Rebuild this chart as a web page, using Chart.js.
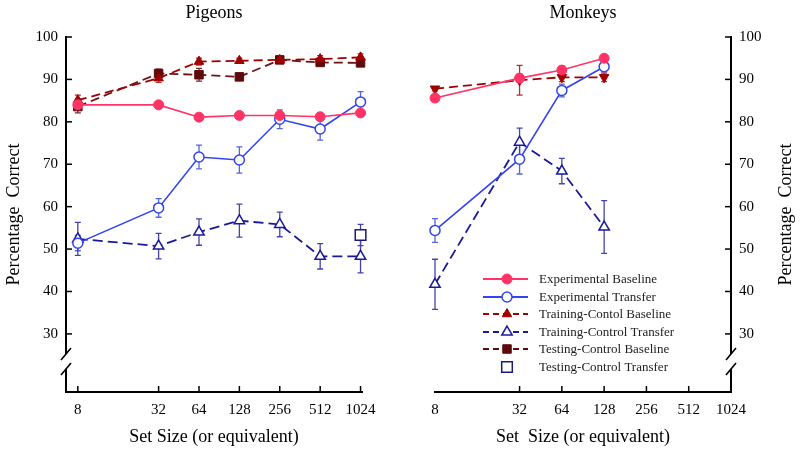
<!DOCTYPE html>
<html><head><meta charset="utf-8">
<script src="https://cdn.jsdelivr.net/npm/chart.js@4.4.1/dist/chart.umd.min.js"></script>
<style>
html,body{margin:0;padding:0;background:#fff;}
#wrap{position:relative;width:800px;height:459px;overflow:hidden;}
.c{position:absolute;top:0;width:400px;height:459px;}
</style></head><body>
<div id="wrap">
<div class="c" style="left:0"><canvas id="pig" width="400" height="459"></canvas></div>
<div class="c" style="left:400px"><canvas id="mon" width="400" height="459"></canvas></div>
</div>
<script>
// ---------- data ----------
const setSizeTicks = [8, 32, 64, 128, 256, 512, 1024];
const yTickValues = [30, 40, 50, 60, 70, 80, 90, 100];

const pigeonSizes = [8, 32, 64, 128, 256, 512, 1024];
const pigExpBase      = [84.0, 84.0, 81.1, 81.5, 81.5, 81.2, 82.1];
const pigExpBaseErr   = [0.5, 0.5, 0.5, 0.6, 0.8, 0.9, 0.6];
const pigExpTrans     = [51.4, 59.7, 71.7, 71.0, 80.6, 78.3, 84.7];
const pigExpTransErr  = [1.8, 2.2, 2.8, 3.1, 2.2, 2.6, 2.4];
const pigTrainBase    = [85.1, 90.3, 94.2, 94.4, 94.6, 94.8, 95.2];
const pigTrainBaseErr = [1.2, 1.0, 0.8, 0.6, 0.8, 0.8, 0.8];
const pigTrainTrans   = [52.4, 50.7, 54.0, 56.7, 55.8, 48.3, 48.3];
const pigTrainTransErr= [3.9, 3.0, 3.1, 3.9, 2.9, 3.0, 3.9];
const pigTestBase     = [83.6, 91.4, 91.1, 90.6, 94.6, 94.0, 93.9];
const pigTestBaseErr  = [1.5, 1.0, 1.5, 0.8, 0.8, 0.8, 0.8];
const pigTestTrans    = [null, null, null, null, null, null, 53.3];
const pigTestTransErr = [0, 0, 0, 0, 0, 0, 2.5];

const monkeySizes = [8, 32, 64, 128];
const monExpBase      = [85.6, 90.3, 92.2, 95.0];
const monExpBaseErr   = [0.5, 1.0, 1.0, 0.7];
const monExpTrans     = [54.4, 71.2, 87.4, 93.0];
const monExpTransErr  = [2.8, 3.5, 1.5, 1.2];
const monTrainBase    = [87.8, 89.8, 90.5, 90.5];
const monTrainBaseErr = [0.5, 3.5, 1.0, 1.0];
const monTrainTrans   = [41.7, 75.2, 68.4, 55.2];
const monTrainTransErr= [5.9, 3.3, 3.0, 6.2];

const legendLabels = ['Experimental Baseline', 'Experimental Transfer', 'Training-Contol Baseline',
  'Training-Control Transfer', 'Testing-Control Baseline', 'Testing-Control Transfer'];

// ---------- styles ----------
const C = {
  expBase: '#FF3366', expBaseErr: '#FF6688',
  expTrans: '#3344EE', expTransErr: '#5566DD',
  trainBase: '#A00000', trainBaseErr: '#B03030',
  trainTrans: '#1A1A99', trainTransErr: '#4444AA',
  testBase: '#5C0A0A', testBaseLine: '#6B1515', testBaseErr: '#7A2A2A',
  testTrans: '#1A1A80', testTransErr: '#4444AA'
};
const FONT = "'Liberation Serif', 'Times New Roman', serif";
Chart.defaults.font.family = FONT;
Chart.defaults.color = '#000';

const pts = (xs, ys) => xs.map((x, i) => ({x: x, y: ys[i]}));

function makeSets(xs, d) {
  const sets = [];
  sets.push({label: legendLabels[0], data: pts(xs, d.expBase), err: d.expBaseErr, errColor: C.expBaseErr,
    borderColor: C.expBase, backgroundColor: C.expBase, borderWidth: 1.6, pointStyle: 'circle',
    pointRadius: 5, pointBorderWidth: 1, pointBackgroundColor: C.expBase, pointBorderColor: C.expBase, clip: false});
  sets.push({label: legendLabels[1], data: pts(xs, d.expTrans), err: d.expTransErr, errColor: C.expTransErr,
    borderColor: C.expTrans, backgroundColor: '#fff', borderWidth: 1.6, pointStyle: 'circle',
    pointRadius: 5, pointBorderWidth: 1.5, pointBackgroundColor: '#fff', pointBorderColor: C.expTrans, clip: false});
  sets.push({label: legendLabels[2], data: pts(xs, d.trainBase), err: d.trainBaseErr, errColor: C.trainBaseErr,
    borderColor: C.trainBase, backgroundColor: C.trainBase, borderWidth: 1.8, borderDash: [9, 5],
    pointStyle: 'triangle', pointRotation: d.triRot || 0, pointRadius: 5.5, pointBorderWidth: 1,
    pointBackgroundColor: C.trainBase, pointBorderColor: C.trainBase, clip: false});
  sets.push({label: legendLabels[3], data: pts(xs, d.trainTrans), err: d.trainTransErr, errColor: C.trainTransErr,
    borderColor: C.trainTrans, backgroundColor: '#fff', borderWidth: 1.8, borderDash: [10, 5],
    pointStyle: 'triangle', pointRadius: 6, pointBorderWidth: 1.5,
    pointBackgroundColor: '#fff', pointBorderColor: C.trainTrans, clip: false});
  if (d.testBase) {
    sets.push({label: legendLabels[4], data: pts(xs, d.testBase), err: d.testBaseErr, errColor: C.testBaseErr,
      borderColor: C.testBaseLine, backgroundColor: C.testBase, borderWidth: 1.8, borderDash: [9, 5],
      pointStyle: 'rect', pointRadius: 6, pointBorderWidth: 1,
      pointBackgroundColor: C.testBase, pointBorderColor: C.testBase, clip: false});
  }
  if (d.testTrans) {
    sets.push({label: legendLabels[5], data: pts(xs, d.testTrans), err: d.testTransErr, errColor: C.testTransErr,
      showLine: false, borderColor: C.testTrans, backgroundColor: '#fff', borderWidth: 1.5,
      pointStyle: 'rect', pointRadius: 7.5, pointBorderWidth: 1.5,
      pointBackgroundColor: '#fff', pointBorderColor: C.testTrans, clip: false});
  }
  return sets;
}

// error bars
const errPlugin = {
  id: 'errbars',
  beforeDatasetsDraw(chart) {
    const ctx = chart.ctx, xs = chart.scales.x, ys = chart.scales.y;
    chart.data.datasets.forEach(ds => {
      if (!ds.err) return;
      ctx.save();
      ctx.strokeStyle = ds.errColor; ctx.lineWidth = 1.3; ctx.setLineDash([]);
      ds.data.forEach((p, i) => {
        const e = ds.err[i];
        if (p.y == null || !e) return;
        const px = xs.getPixelForValue(p.x);
        const y1 = ys.getPixelForValue(p.y + e), y2 = ys.getPixelForValue(p.y - e);
        ctx.beginPath();
        ctx.moveTo(px, y1); ctx.lineTo(px, y2);
        ctx.moveTo(px - 3, y1); ctx.lineTo(px + 3, y1);
        ctx.moveTo(px - 3, y2); ctx.lineTo(px + 3, y2);
        ctx.stroke();
      });
      ctx.restore();
    });
  }
};

function drawMarker(ctx, style, x, y, r, fill, stroke, lw, rot) {
  ctx.save();
  ctx.fillStyle = fill; ctx.strokeStyle = stroke; ctx.lineWidth = lw; ctx.setLineDash([]);
  if (Chart.helpers && Chart.helpers.drawPoint) {
    Chart.helpers.drawPoint(ctx, {pointStyle: style, radius: r, rotation: rot || 0, borderWidth: lw}, x, y);
  } else {
    ctx.beginPath(); ctx.arc(x, y, r, 0, Math.PI * 2); ctx.fill(); ctx.stroke();
  }
  ctx.restore();
}

// axis decorations: inward ticks, break marks, panel title, right y title, legend
const decoPlugin = {
  id: 'deco',
  afterDraw(chart, args, o) {
    const ctx = chart.ctx, xs = chart.scales.x, ys = chart.scales.y, ca = chart.chartArea;
    ctx.save();
    ctx.strokeStyle = '#000'; ctx.lineWidth = 1.5; ctx.setLineDash([]);
    // x ticks (inward)
    setSizeTicks.forEach(v => {
      const px = xs.getPixelForValue(v);
      if (px < ca.left + 1 || px > ca.right + 1) return;
      ctx.beginPath(); ctx.moveTo(px, ca.bottom); ctx.lineTo(px, ca.bottom - 6); ctx.stroke();
    });
    // y ticks (inward)
    const ax = o.side === 'left' ? ca.left : ca.right;
    const dir = o.side === 'left' ? 1 : -1;
    yTickValues.forEach(v => {
      const py = ys.getPixelForValue(v);
      ctx.beginPath(); ctx.moveTo(ax, py); ctx.lineTo(ax + dir * 6, py); ctx.stroke();
    });
    // axis break
    ctx.fillStyle = '#fff';
    ctx.fillRect(ax - 4, 354, 8, 15);
    ctx.lineWidth = 1.6;
    ctx.beginPath();
    ctx.moveTo(ax - 5, 360); ctx.lineTo(ax + 5, 348);
    ctx.moveTo(ax - 5, 375); ctx.lineTo(ax + 5, 363);
    ctx.stroke();
    // panel title
    ctx.fillStyle = '#000';
    ctx.font = '18px ' + FONT;
    ctx.textAlign = 'center'; ctx.textBaseline = 'middle';
    ctx.fillText(o.title, (ca.left + ca.right) / 2, 13);
    // right y title
    if (o.rightTitle) {
      ctx.save();
      ctx.translate(386, (ca.top + ca.bottom) / 2);
      ctx.rotate(-Math.PI / 2);
      ctx.fillText(o.rightTitle, 0, 0);
      ctx.restore();
    }
    // legend
    if (o.legend) {
      const lx0 = 83, lx1 = 128, mx = 107, tx = 139;
      const rows = [279, 297, 314, 332, 349, 367];
      const items = [
        {c: C.expBase, dash: [], style: 'circle', r: 5, fill: C.expBase, lw: 1, line: true},
        {c: C.expTrans, dash: [], style: 'circle', r: 5, fill: '#fff', lw: 1.5, line: true},
        {c: C.trainBase, dash: [6, 4], style: 'triangle', r: 5.5, fill: C.trainBase, lw: 1, line: true},
        {c: C.trainTrans, dash: [6, 4], style: 'triangle', r: 6, fill: '#fff', lw: 1.5, line: true},
        {c: C.testBase, dash: [6, 4], style: 'rect', r: 6, fill: C.testBase, lw: 1, line: true},
        {c: C.testTrans, dash: [], style: 'rect', r: 7.5, fill: '#fff', lw: 1.5, line: false}
      ];
      ctx.font = '13px ' + FONT;
      ctx.textAlign = 'left'; ctx.textBaseline = 'middle';
      items.forEach((it, i) => {
        const y = rows[i];
        if (it.line) {
          ctx.save();
          ctx.strokeStyle = it.c; ctx.lineWidth = 1.8; ctx.setLineDash(it.dash);
          ctx.beginPath(); ctx.moveTo(lx0, y); ctx.lineTo(lx1, y); ctx.stroke();
          ctx.restore();
        }
        drawMarker(ctx, it.style, mx, y, it.r, it.fill, it.c, it.lw, 0);
        ctx.fillStyle = '#222';
        ctx.fillText(legendLabels[i], tx, y + 1);
      });
    }
    ctx.restore();
  }
};

function makeOptions(side, xmin, xmax, deco, xTitle, padding, yWidth) {
  return {
    responsive: false, animation: false, devicePixelRatio: 1,
    layout: {padding: padding},
    plugins: {legend: {display: false}, tooltip: {enabled: false}, title: {display: false}, deco: deco},
    scales: {
      x: {
        type: 'logarithmic', min: xmin, max: xmax, position: 'bottom',
        afterBuildTicks: s => { s.ticks = setSizeTicks.map(v => ({value: v})); },
        afterFit: s => { s.height = 67; },
        grid: {display: false, drawTicks: false},
        border: {display: true, color: '#000', width: 2},
        ticks: {callback: v => String(v), font: {size: 15}, color: '#000', padding: 9, maxRotation: 0, autoSkip: false},
        title: {display: true, text: xTitle, font: {size: 18}, color: '#000', padding: {top: 0, bottom: 11}}
      },
      y: {
        type: 'linear', min: 16.3, max: 100, position: side,
        afterBuildTicks: s => { s.ticks = yTickValues.map(v => ({value: v})); },
        afterFit: s => { s.width = yWidth; },
        grid: {display: false, drawTicks: false},
        border: {display: true, color: '#000', width: 2},
        ticks: {font: {size: 15}, color: '#000', padding: 8},
        title: side === 'left'
          ? {display: true, text: 'Percentage  Correct', font: {size: 18}, color: '#000', padding: {top: 3, bottom: 0}}
          : {display: false}
      }
    }
  };
}

new Chart(document.getElementById('pig'), {
  type: 'line',
  data: {datasets: makeSets(pigeonSizes, {
    expBase: pigExpBase, expBaseErr: pigExpBaseErr, expTrans: pigExpTrans, expTransErr: pigExpTransErr,
    trainBase: pigTrainBase, trainBaseErr: pigTrainBaseErr, trainTrans: pigTrainTrans, trainTransErr: pigTrainTransErr,
    testBase: pigTestBase, testBaseErr: pigTestBaseErr, testTrans: pigTestTrans, testTransErr: pigTestTransErr})},
  options: makeOptions('left', 6.53, 1050, {side: 'left', title: 'Pigeons'}, 'Set Size (or equivalent)',
    {top: 37, right: 38, left: 0, bottom: 0}, 66),
  plugins: [errPlugin, decoPlugin]
});

new Chart(document.getElementById('mon'), {
  type: 'line',
  data: {datasets: makeSets(monkeySizes, {
    expBase: monExpBase, expBaseErr: monExpBaseErr, expTrans: monExpTrans, expTransErr: monExpTransErr,
    trainBase: monTrainBase, trainBaseErr: monTrainBaseErr, trainTrans: monTrainTrans, trainTransErr: monTrainTransErr,
    triRot: 180})},
  options: makeOptions('right', 8, 1024, {side: 'right', title: 'Monkeys', rightTitle: 'Percentage  Correct', legend: true},
    'Set  Size (or equivalent)', {top: 37, right: 0, left: 35, bottom: 0}, 69),
  plugins: [errPlugin, decoPlugin]
});
</script>
</body></html>
